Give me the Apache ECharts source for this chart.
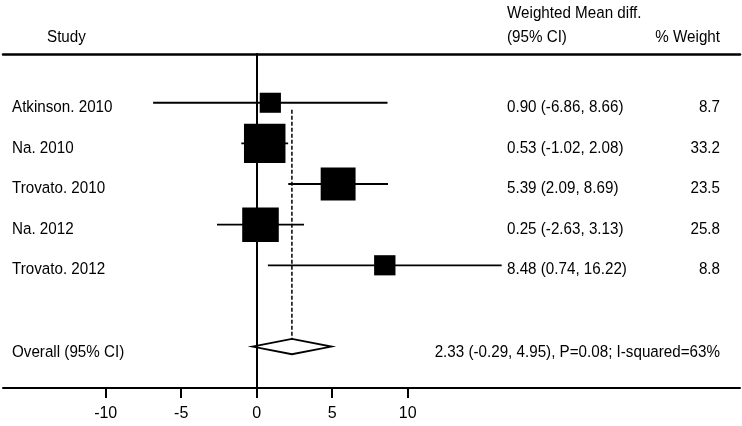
<!DOCTYPE html>
<html>
<head>
<meta charset="utf-8">
<script src="https://cdn.jsdelivr.net/npm/echarts@6/dist/echarts.min.js"></script>
<style>html,body{margin:0;padding:0;background:#fff}#c{width:742px;height:426px}</style>
</head>
<body>
<div id="c"></div>
<script>
const studies = ['Atkinson. 2010', 'Na. 2010', 'Trovato. 2010', 'Na. 2012', 'Trovato. 2012'];
const estimates = [0.90, 0.53, 5.39, 0.25, 8.48];
const lowers = [-6.86, -1.02, 2.09, -2.63, 0.74];
const uppers = [8.66, 2.08, 8.69, 3.13, 16.22];
const weights = [8.7, 33.2, 23.5, 25.8, 8.8];
const overallLabel = 'Overall (95% CI)';
const overallEst = 2.33;
const overallLo = -0.29;
const overallHi = 4.95;
const overallP = '0.08';
const overallI2 = '63%';
const overallRow = 6;
const xTicks = [-10, -5, 0, 5, 10];

const FONT = 'Liberation Sans, Arial, sans-serif';
const FS = 16.8;
const SX = 0.905;
const fmt = v => v.toFixed(2);

const chart = echarts.init(document.getElementById('c'), null, {renderer: 'canvas'});

function txt(text, x, y, align) {
  return {type: 'text', x: x, y: y, scaleX: SX, scaleY: 1,
    style: {text: text, x: 0, y: 0, fill: '#000', fontSize: FS, fontFamily: FONT, align: align || 'left', verticalAlign: 'middle'}};
}

const option = {
  animation: false,
  backgroundColor: '#fff',
  grid: {left: 3, right: 2, top: 54, bottom: 38},
  xAxis: [{
    type: 'value', min: -16.8, max: 32, position: 'bottom',
    axisLine: {show: true, onZero: false, lineStyle: {color: '#000', width: 2}},
    axisTick: {show: true, customValues: xTicks, length: 10, lineStyle: {color: '#000', width: 2}},
    axisLabel: {show: true, customValues: xTicks, margin: 18, color: '#000', fontSize: 16, fontFamily: FONT},
    splitLine: {show: false}
  }, {
    type: 'value', min: -16.8, max: 32, position: 'top',
    axisLine: {show: true, onZero: false, lineStyle: {color: '#000', width: 2.5}},
    axisTick: {show: false}, axisLabel: {show: false}, splitLine: {show: false}
  }],
  yAxis: {
    type: 'value', inverse: true, min: -1.2, max: 7.02,
    axisLine: {show: true, onZero: true, lineStyle: {color: '#000', width: 2}},
    axisTick: {show: false}, axisLabel: {show: false}, splitLine: {show: false}
  },
  graphic: [
    txt('Study', 47, 37),
    txt('Weighted Mean diff.', 507, 13),
    txt('(95% CI)', 507, 37),
    txt('% Weight', 720, 37, 'right')
  ],
  series: [
    {
      type: 'custom', name: 'ci',
      data: studies.map((s, i) => [lowers[i], uppers[i], i]),
      encode: {x: [0, 1], y: 2},
      renderItem: function (params, api) {
        const a = api.coord([api.value(0), api.value(2)]);
        const b = api.coord([api.value(1), api.value(2)]);
        return {type: 'line', shape: {x1: a[0], y1: a[1], x2: b[0], y2: b[1]}, style: {stroke: '#000', lineWidth: 1.8}};
      },
      z: 2
    },
    {
      type: 'scatter', name: 'est',
      data: studies.map((s, i) => [estimates[i], i, weights[i]]),
      symbol: 'rect',
      symbolSize: v => [7.2 * Math.sqrt(v[2]), 6.8 * Math.sqrt(v[2])],
      itemStyle: {color: '#000', opacity: 1},
      z: 3
    },
    {
      type: 'custom', name: 'overall',
      data: [[overallLo, overallEst, overallHi, overallRow]],
      encode: {x: [0, 1, 2], y: 3},
      renderItem: function (params, api) {
        const L = api.coord([api.value(0), api.value(3)]);
        const C = api.coord([api.value(1), api.value(3)]);
        const R = api.coord([api.value(2), api.value(3)]);
        const top0 = api.coord([api.value(1), 0]);
        const h = 7.7;
        return {type: 'group', children: [
          {type: 'line', shape: {x1: C[0], y1: top0[1] + 7, x2: C[0], y2: C[1] - h}, style: {stroke: '#000', lineWidth: 1.5, lineDash: [4, 2]}},
          {type: 'polygon', shape: {points: [[L[0], L[1]], [C[0], C[1] - h], [R[0], R[1]], [C[0], C[1] + h]]}, style: {fill: 'none', stroke: '#000', lineWidth: 1.8}}
        ]};
      },
      z: 2
    },
    {
      type: 'custom', name: 'labels',
      data: studies.map((s, i) => [0, i]),
      encode: {x: 0, y: 1},
      renderItem: function (params, api) {
        const i = params.dataIndex;
        const p = api.coord([0, api.value(1)]);
        const y = p[1] + 4.5;
        return {type: 'group', children: [
          txt(studies[i], 12, y),
          txt(fmt(estimates[i]) + ' (' + fmt(lowers[i]) + ', ' + fmt(uppers[i]) + ')', 507, y),
          txt(weights[i].toFixed(1), 720, y, 'right')
        ]};
      },
      z: 4
    },
    {
      type: 'custom', name: 'overallLabels',
      data: [[0, overallRow]],
      encode: {x: 0, y: 1},
      renderItem: function (params, api) {
        const p = api.coord([0, api.value(1)]);
        const y = p[1] + 5.5;
        return {type: 'group', children: [
          txt(overallLabel, 12, y),
          txt(fmt(overallEst) + ' (' + fmt(overallLo) + ', ' + fmt(overallHi) + '), P=' + overallP + '; I-squared=' + overallI2, 720, y, 'right')
        ]};
      },
      z: 4
    }
  ]
};
chart.setOption(option);
</script>
</body>
</html>
